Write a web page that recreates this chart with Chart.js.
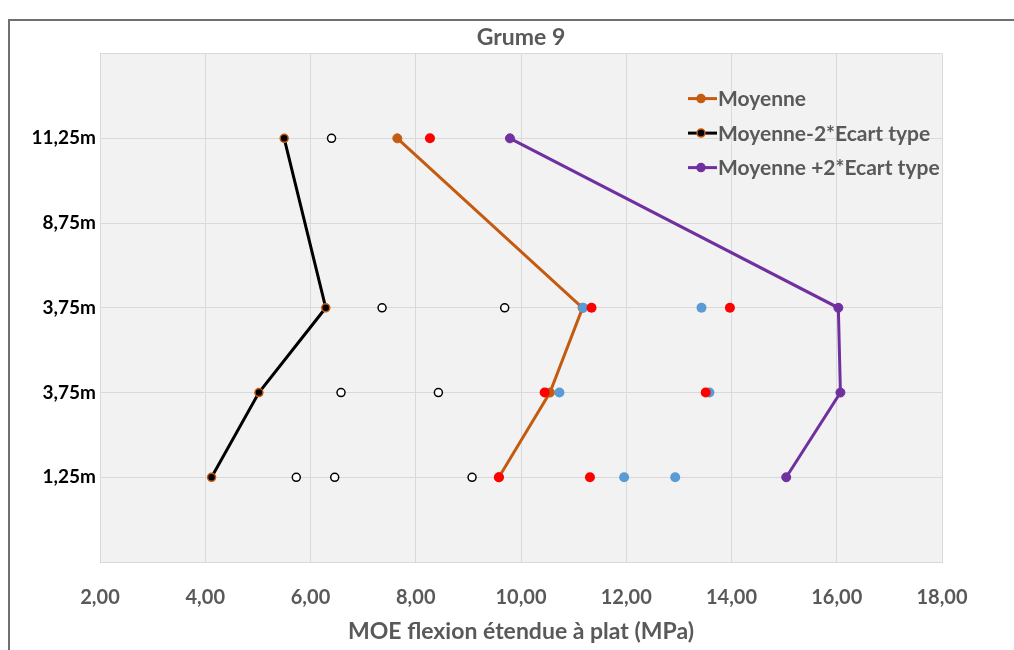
<!DOCTYPE html>
<html>
<head>
<meta charset="utf-8">
<title>Grume 9</title>
<script src="https://cdn.jsdelivr.net/npm/chart.js@4.4.1/dist/chart.umd.min.js"></script>
<style>
  html, body { margin: 0; padding: 0; background: #fff; }
  #wrap { position: relative; width: 1014px; height: 650px; }
</style>
</head>
<body>
<div id="wrap"><canvas id="grume" width="1014" height="650"></canvas></div>
<script>
// y levels (0..6), only 1..5 carry a label
const levelLabels = ['', '1,25m', '3,75m', '3,75m', '8,75m', '11,25m', ''];

// series drawn with a line
const lineLevels = [1, 2, 3, 5];
const moyenne = [9.58, 10.55, 11.17, 7.65];
const moyenneMoins2 = [4.12, 5.02, 6.29, 5.50];
const moyennePlus2 = [15.04, 16.07, 16.03, 9.79];

// single measurements (markers only)
const blancLevels = [1, 1, 1, 2, 2, 3, 3, 5];
const mesuresBlanches = [5.73, 6.46, 9.07, 6.58, 8.43, 7.36, 9.69, 6.40];
const rougeLevels = [1, 1, 2, 2, 3, 3, 5];
const mesuresRouges = [9.58, 11.31, 10.45, 13.51, 11.34, 13.97, 8.27];
const bleuLevels = [1, 1, 2, 2, 3, 3];
const mesuresBleues = [11.96, 12.93, 10.73, 13.58, 11.18, 13.43];

const GRAY_TEXT = '#595959';
const FONT = 'Lato';

function toPoints(xs, ys) {
  return xs.map((x, i) => ({ x: x, y: ys[i] }));
}

// plot area background + outer frame
const backgroundPlugin = {
  id: 'plotBackground',
  beforeDraw(chart) {
    const { ctx, chartArea } = chart;
    ctx.save();
    ctx.fillStyle = '#ffffff';
    ctx.fillRect(0, 0, chart.width, chart.height);
    ctx.fillStyle = '#f2f2f2';
    ctx.fillRect(chartArea.left, chartArea.top, chartArea.right - chartArea.left, chartArea.bottom - chartArea.top);
    ctx.strokeStyle = '#707070';
    ctx.lineWidth = 2;
    ctx.beginPath();
    ctx.moveTo(9, chart.height);
    ctx.lineTo(9, 20);
    ctx.lineTo(chart.width, 20);
    ctx.stroke();
    ctx.restore();
  }
};

// legend drawn inside the plot area, top right
const legendPlugin = {
  id: 'insideLegend',
  afterDraw(chart) {
    const { ctx, chartArea } = chart;
    const x0 = chartArea.right - 254;
    let y = chartArea.top + 45;
    ctx.save();
    ctx.font = 'bold 21px ' + FONT;
    ctx.textBaseline = 'middle';
    chart.data.datasets.filter(d => d.inLegend).forEach(d => {
      ctx.strokeStyle = d.borderColor;
      ctx.lineWidth = 3;
      ctx.beginPath();
      ctx.moveTo(x0, y);
      ctx.lineTo(x0 + 29, y);
      ctx.stroke();
      ctx.beginPath();
      ctx.arc(x0 + 13, y, 4, 0, Math.PI * 2);
      ctx.fillStyle = d.pointBackgroundColor;
      ctx.fill();
      ctx.lineWidth = 1.5;
      ctx.strokeStyle = d.pointBorderColor;
      ctx.stroke();
      ctx.fillStyle = GRAY_TEXT;
      ctx.fillText(d.label, x0 + 30, y + 1);
      y += 34.5;
    });
    ctx.restore();
  }
};

const ctx = document.getElementById('grume').getContext('2d');

new Chart(ctx, {
  type: 'scatter',
  data: {
    datasets: [
      {
        label: 'Mesures rouges',
        data: toPoints(mesuresRouges, rougeLevels),
        pointRadius: 5,
        pointBackgroundColor: '#ff0000',
        pointBorderWidth: 0,
        borderColor: '#ff0000',
        order: 0
      },
      {
        label: 'Mesures bleues',
        data: toPoints(mesuresBleues, bleuLevels),
        pointRadius: 5,
        pointBackgroundColor: '#5b9bd5',
        pointBorderWidth: 0,
        borderColor: '#5b9bd5',
        order: 0
      },
      {
        label: 'Mesures',
        data: toPoints(mesuresBlanches, blancLevels),
        pointRadius: 4,
        pointBackgroundColor: '#ffffff',
        pointBorderColor: '#000000',
        pointBorderWidth: 1.5,
        borderColor: '#000000',
        order: 0
      },
      {
        label: 'Moyenne',
        inLegend: true,
        data: toPoints(moyenne, lineLevels),
        showLine: true,
        borderColor: '#c55a11',
        borderWidth: 3,
        pointRadius: 4.5,
        pointBackgroundColor: '#c55a11',
        pointBorderColor: '#c55a11',
        pointBorderWidth: 1,
        order: 1
      },
      {
        label: 'Moyenne-2*Ecart type',
        inLegend: true,
        data: toPoints(moyenneMoins2, lineLevels),
        showLine: true,
        borderColor: '#000000',
        borderWidth: 3,
        pointRadius: 4,
        pointBackgroundColor: '#000000',
        pointBorderColor: '#c55a11',
        pointBorderWidth: 1.5,
        order: 1
      },
      {
        label: 'Moyenne +2*Ecart type',
        inLegend: true,
        data: toPoints(moyennePlus2, lineLevels),
        showLine: true,
        borderColor: '#7030a0',
        borderWidth: 3,
        pointRadius: 4.5,
        pointBackgroundColor: '#7030a0',
        pointBorderColor: '#7030a0',
        pointBorderWidth: 1,
        order: 1
      }
    ]
  },
  options: {
    responsive: false,
    animation: false,
    layout: { padding: { left: 0, right: 72, top: 0, bottom: 0 } },
    plugins: {
      legend: { display: false },
      tooltip: { enabled: false },
      title: {
        display: true,
        text: 'Grume 9',
        fullSize: false,
        color: GRAY_TEXT,
        font: { family: FONT, size: 23, weight: 'bold' },
        padding: { top: 24, bottom: 2 }
      }
    },
    scales: {
      x: {
        type: 'linear',
        min: 2,
        max: 18,
        grid: { color: '#d9d9d9', drawTicks: false },
        border: { color: '#d9d9d9' },
        ticks: {
          stepSize: 2,
          padding: 24,
          color: GRAY_TEXT,
          font: { family: FONT, size: 20, weight: 'bold' },
          callback: v => v.toFixed(2).replace('.', ',')
        },
        title: {
          display: true,
          text: 'MOE flexion étendue à plat (MPa)',
          color: GRAY_TEXT,
          font: { family: FONT, size: 23, weight: 'bold' },
          padding: { top: 0, bottom: 5 }
        },
        afterFit: scale => { scale.height = 88; }
      },
      y: {
        type: 'linear',
        min: 0,
        max: 6,
        grid: { color: '#d9d9d9', drawTicks: false },
        border: { color: '#d9d9d9' },
        ticks: {
          stepSize: 1,
          padding: 4,
          color: '#000000',
          font: { family: FONT, size: 19, weight: 'bold' },
          callback: v => levelLabels[v]
        },
        afterFit: scale => { scale.width = 100; }
      }
    }
  },
  plugins: [backgroundPlugin, legendPlugin]
});
</script>
</body>
</html>
